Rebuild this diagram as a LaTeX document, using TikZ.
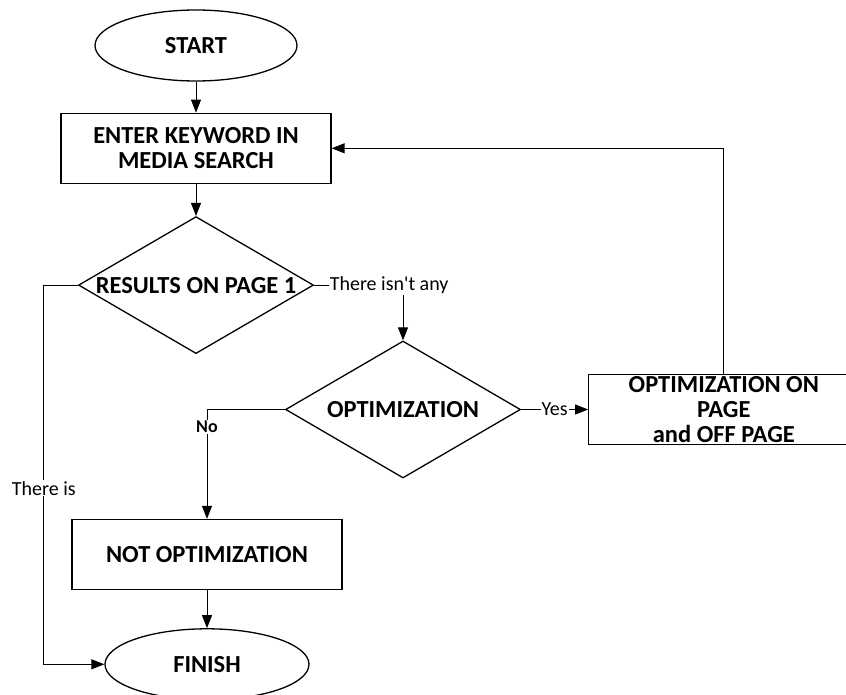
\documentclass[tikz,border=0pt]{standalone}
\usepackage{fontspec}
\setmainfont{Carlito}
\usetikzlibrary{arrows.meta,positioning,shapes.geometric}

\begin{document}
\begin{tikzpicture}[
  x=1pt, y=-1pt,
  font=\fontsize{24.5}{25}\selectfont\bfseries,
  >={Triangle[length=13pt,width=10pt]},
  terminal/.style={
    draw,
    ellipse,
    line width=1.3pt,
    minimum width=202pt,
    minimum height=71pt,
    inner sep=0pt
  },
  process/.style={
    draw,
    line width=1.3pt,
    align=center,
    minimum width=270pt,
    minimum height=70pt,
    inner sep=0pt
  },
  decision/.style={
    draw,
    diamond,
    line width=1.3pt,
    minimum width=235pt,
    minimum height=137pt,
    inner sep=0pt
  },
  flow/.style={->,line width=0.9pt},
  answer/.style={fill=white,inner sep=1pt,font=\fontsize{20}{24}\selectfont\mdseries}
]
\useasboundingbox (0,0) rectangle (846,695);
\node[terminal] (start) at (196,45.5) {START};
\node[process,below=31pt of start] (enter) {ENTER KEYWORD IN\\MEDIA SEARCH};
\node[decision,below=32pt of enter] (results) {};
\node (resultstext) at (results) {RESULTS ON PAGE 1};
\node[decision] (optim) at (403,409.5) {};
\node (optimtext) at (optim) {OPTIMIZATION};
\node[process,right=67pt of optim] (onoff) {OPTIMIZATION ON\\PAGE\\and OFF PAGE};
\node[process] (notopt) at (207,554.5) {NOT OPTIMIZATION};
\node[terminal,minimum width=204pt,below=38pt of notopt] (finish) {FINISH};
\draw[flow] (start) -- (enter);
\draw[flow] (enter) -- (results);
\draw[flow] (results.east) -| node[answer,anchor=west,pos=0.08] {There isn\textquotesingle t any} (optim.north);
\draw[flow] (optim) -- node[answer] {Yes} (onoff);
\draw[flow] (optim.west) -| node[answer,pos=0.58,font=\fontsize{18}{22}\selectfont\bfseries] {No} (notopt.north);
\draw[flow] (results.west) -- ++(-34pt,0) |- node[answer,pos=0.268] {There is} (finish.west);
\draw[flow] (onoff.north) |- (enter.east);
\draw[flow] (notopt) -- (finish);
\end{tikzpicture}
\end{document}
